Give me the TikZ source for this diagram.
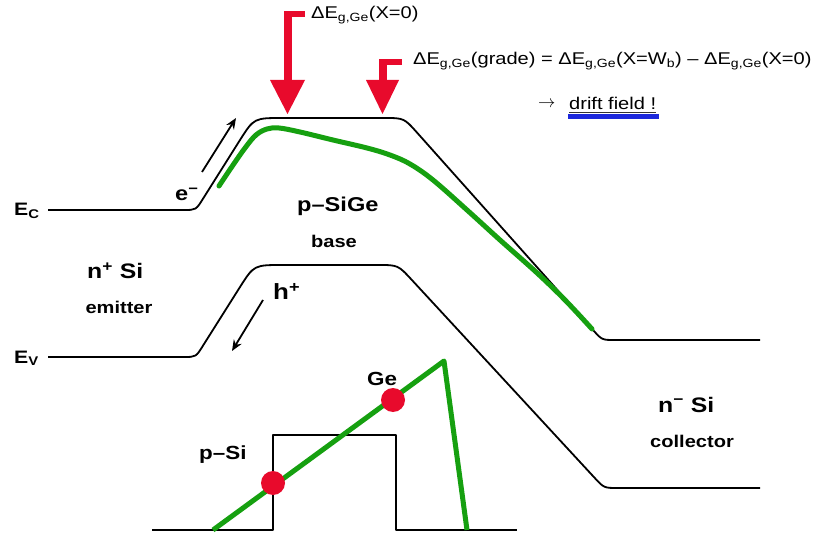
\documentclass[tikz,border=0pt]{standalone}
\usepackage{fontspec}
\setmainfont[FakeStretch=1.18]{Liberation Sans}
\usetikzlibrary{arrows.meta}
\definecolor{sgreen}{RGB}{22,160,16}
\definecolor{sred}{RGB}{232,10,44}
\definecolor{sblue}{RGB}{28,40,220}
\newcommand{\dEg}{ΔE\textsubscript{g,Ge}}
\begin{document}
\begin{tikzpicture}[x=1pt,y=-1pt,
  band/.style={line width=1.8pt, black, line join=round},
  greenline/.style={line width=5pt, sgreen, line join=round},
  lab/.style={inner sep=0pt, anchor=base west, font=\bfseries\fontsize{#1}{#1}\selectfont},
  top/.style={inner sep=0pt, anchor=base west, font=\fontsize{17}{17}\selectfont},
  redarrow/.style={fill=sred}]
\useasboundingbox (0,0) rectangle (817,540);
\fill[white] (0,0) rectangle (817,540);

% conduction band (Si reference)
\draw[band] (48,210) -- (184,210) .. controls (196,210) .. (203.4,198.1) -- (240,140)
  .. controls (254,118) .. (283,118) -- (384,118) .. controls (404,118) .. (417.3,132.9)
  -- (593.3,330.3) .. controls (602,340) .. (615,340) -- (760,340);
% valence band
\draw[band] (48,357) -- (184,357) .. controls (196,357) .. (203.4,345) -- (240,287)
  .. controls (254,265) .. (283,265) -- (378,265) .. controls (398,265) .. (411.6,279.7)
  -- (594.5,477.7) .. controls (604,488) .. (618,488) -- (760,488);
% SiGe conduction band
\draw[greenline, line cap=round] plot[smooth, tension=0.6] coordinates {
  (219,186) (231,168) (245,148) (256,135) (267,129) (279,128) (300,132) (333,140)
  (367,148) (390,155) (410,164) (433,180) (467,210) (500,240) (536,272) (565,300) (592,329)};

% carrier arrows
\coordinate (ea1) at (202,172); \coordinate (ea2) at (236,118);
\draw[band, -{Stealth[length=11pt,width=9pt]}] (ea1) -- (ea2);
\coordinate (ha1) at (263,300); \coordinate (ha2) at (232,351);
\draw[band, -{Stealth[length=11pt,width=9pt]}] (ha1) -- (ha2);

% red arrows
\fill[redarrow] (283.5,11.5) rectangle (305,17);
\fill[redarrow] (283.5,11.5) rectangle (292,82);
\fill[redarrow] (270,80) -- (305,80) -- (287.5,114) -- cycle;
\fill[redarrow] (378.5,59.5) rectangle (402,65);
\fill[redarrow] (378.5,59.5) rectangle (387,82);
\fill[redarrow] (366,80) -- (399,80) -- (382.5,114) -- cycle;

% labels
\node[lab=18] (ec) at (14,216) {E\textsubscript{C}};
\node[lab=18] (ev) at (14,363) {E\textsubscript{V}};
\node[lab=21] (nsi) at (87,279) {n\textsuperscript{+} Si};
\node[lab=17, anchor=base] (emit) at (119,313) {emitter};
\node[lab=20] (psige) at (297,212) {p–SiGe};
\node[lab=17, anchor=base] (basel) at (334,248) {base};
\node[lab=21] (nmsi) at (658,412) {n\textsuperscript{−} Si};
\node[lab=17, anchor=base] (coll) at (692,447) {collector};
\node[lab=19] (psi) at (199,459) {p–Si};
\node[lab=19] (ge) at (367,385) {Ge};
\node[lab=20] (em) at (175,201) {e\textsuperscript{−}};
\node[lab=22] (hp) at (273,300) {h\textsuperscript{+}};

% top texts
\node[top] (t1) at (311,19) {\dEg(X=0)};
\node[top] (t2) at (413,65) {\dEg(grade) = \dEg(X=W\textsubscript{b}) – \dEg(X=0)};
\node[top] (arr) at (538,108) {$\rightarrow$};
\node[top] (drift) at (569,110) {drift field !};
\draw[line width=0.9pt, black!80] ([yshift=-2pt]drift.south west) -- ([yshift=-2pt]drift.south east);
\draw[sblue, line width=4.5pt] ([yshift=-6pt,xshift=-1pt]drift.south west) -- ([yshift=-6pt,xshift=3pt]drift.south east);

% doping / Ge profile
\draw[band] (152,530) -- (273,530) -- (273,435) -- (396,435) -- (396,530) -- (517,530);
\draw[greenline] (213,530) -- (444,361) -- (467,530);
\fill[sred] (273,483) circle[radius=12pt];
\fill[sred] (393,400) circle[radius=12pt];
\end{tikzpicture}
\end{document}
